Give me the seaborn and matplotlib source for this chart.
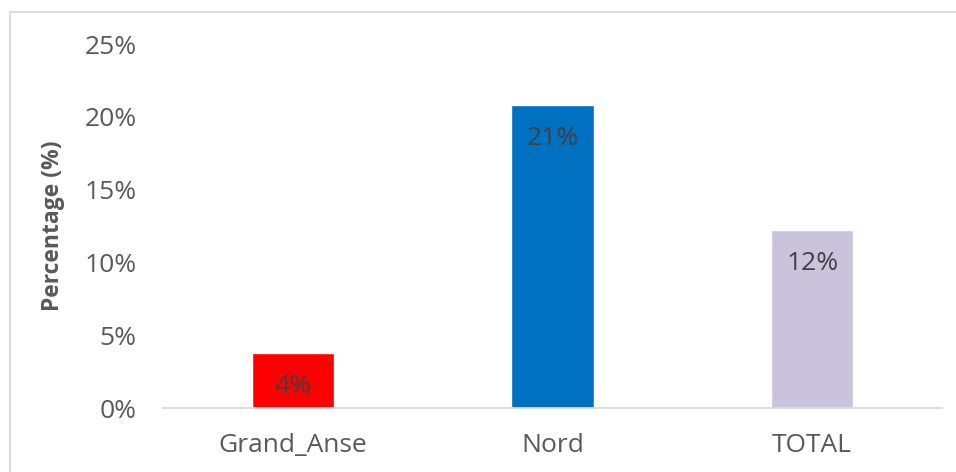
import matplotlib
matplotlib.use("Agg")
import matplotlib.pyplot as plt
import seaborn as sns
import pandas as pd
from matplotlib.patches import Rectangle

categories = ["Grand_Anse", "Nord", "TOTAL"]
values = [3.8, 20.8, 12.2]
labels = ["4%", "21%", "12%"]
colors = ["#FF0000", "#0070C0", "#CBC2DB"]
yticks = [0, 5, 10, 15, 20, 25]
ytick_labels = ["0%", "5%", "10%", "15%", "20%", "25%"]

sns.set_theme(style="white")
plt.rcParams['font.family'] = ['Open Sans', 'DejaVu Sans']

df = pd.DataFrame({"cat": categories, "val": values})

fig = plt.figure(figsize=(9.56, 4.72), dpi=100)
ax = fig.add_axes([163/956, 1-408/472, (942-163)/956, (408-44)/472])
sns.barplot(data=df, x="cat", y="val", hue="cat", palette=colors, legend=False,
            width=0.316, ax=ax, saturation=1)

ax.set_xlim(-0.5, 2.5)
ax.set_ylim(0, 25)
ax.set_yticks(yticks)
ax.set_yticklabels(ytick_labels)
ax.tick_params(axis='y', length=0, pad=19, labelsize=19, labelcolor="#595959")
ax.tick_params(axis='x', length=0, pad=18, labelsize=19, labelcolor="#595959")
ax.set_xlabel("")
ax.set_ylabel("Percentage (%)", fontsize=16.5, fontweight="bold", color="#595959", labelpad=14)

for s in ["top", "right", "left"]:
    ax.spines[s].set_visible(False)
ax.spines["bottom"].set_color("#D9D9D9")
ax.spines["bottom"].set_linewidth(1.3)

for i, (v, lab) in enumerate(zip(values, labels)):
    ax.annotate(lab, xy=(i, v), xytext=(0, -24), textcoords="offset points",
                ha="center", va="center", fontsize=19, color="#404040")

fig.patches.append(Rectangle((10/956, -0.1), 1.2, 1 - 12/472 + 0.1, transform=fig.transFigure,
                             fill=False, edgecolor="#D9D9D9", linewidth=1.3, zorder=0))

fig.savefig("out.png", dpi=100, facecolor="white")
